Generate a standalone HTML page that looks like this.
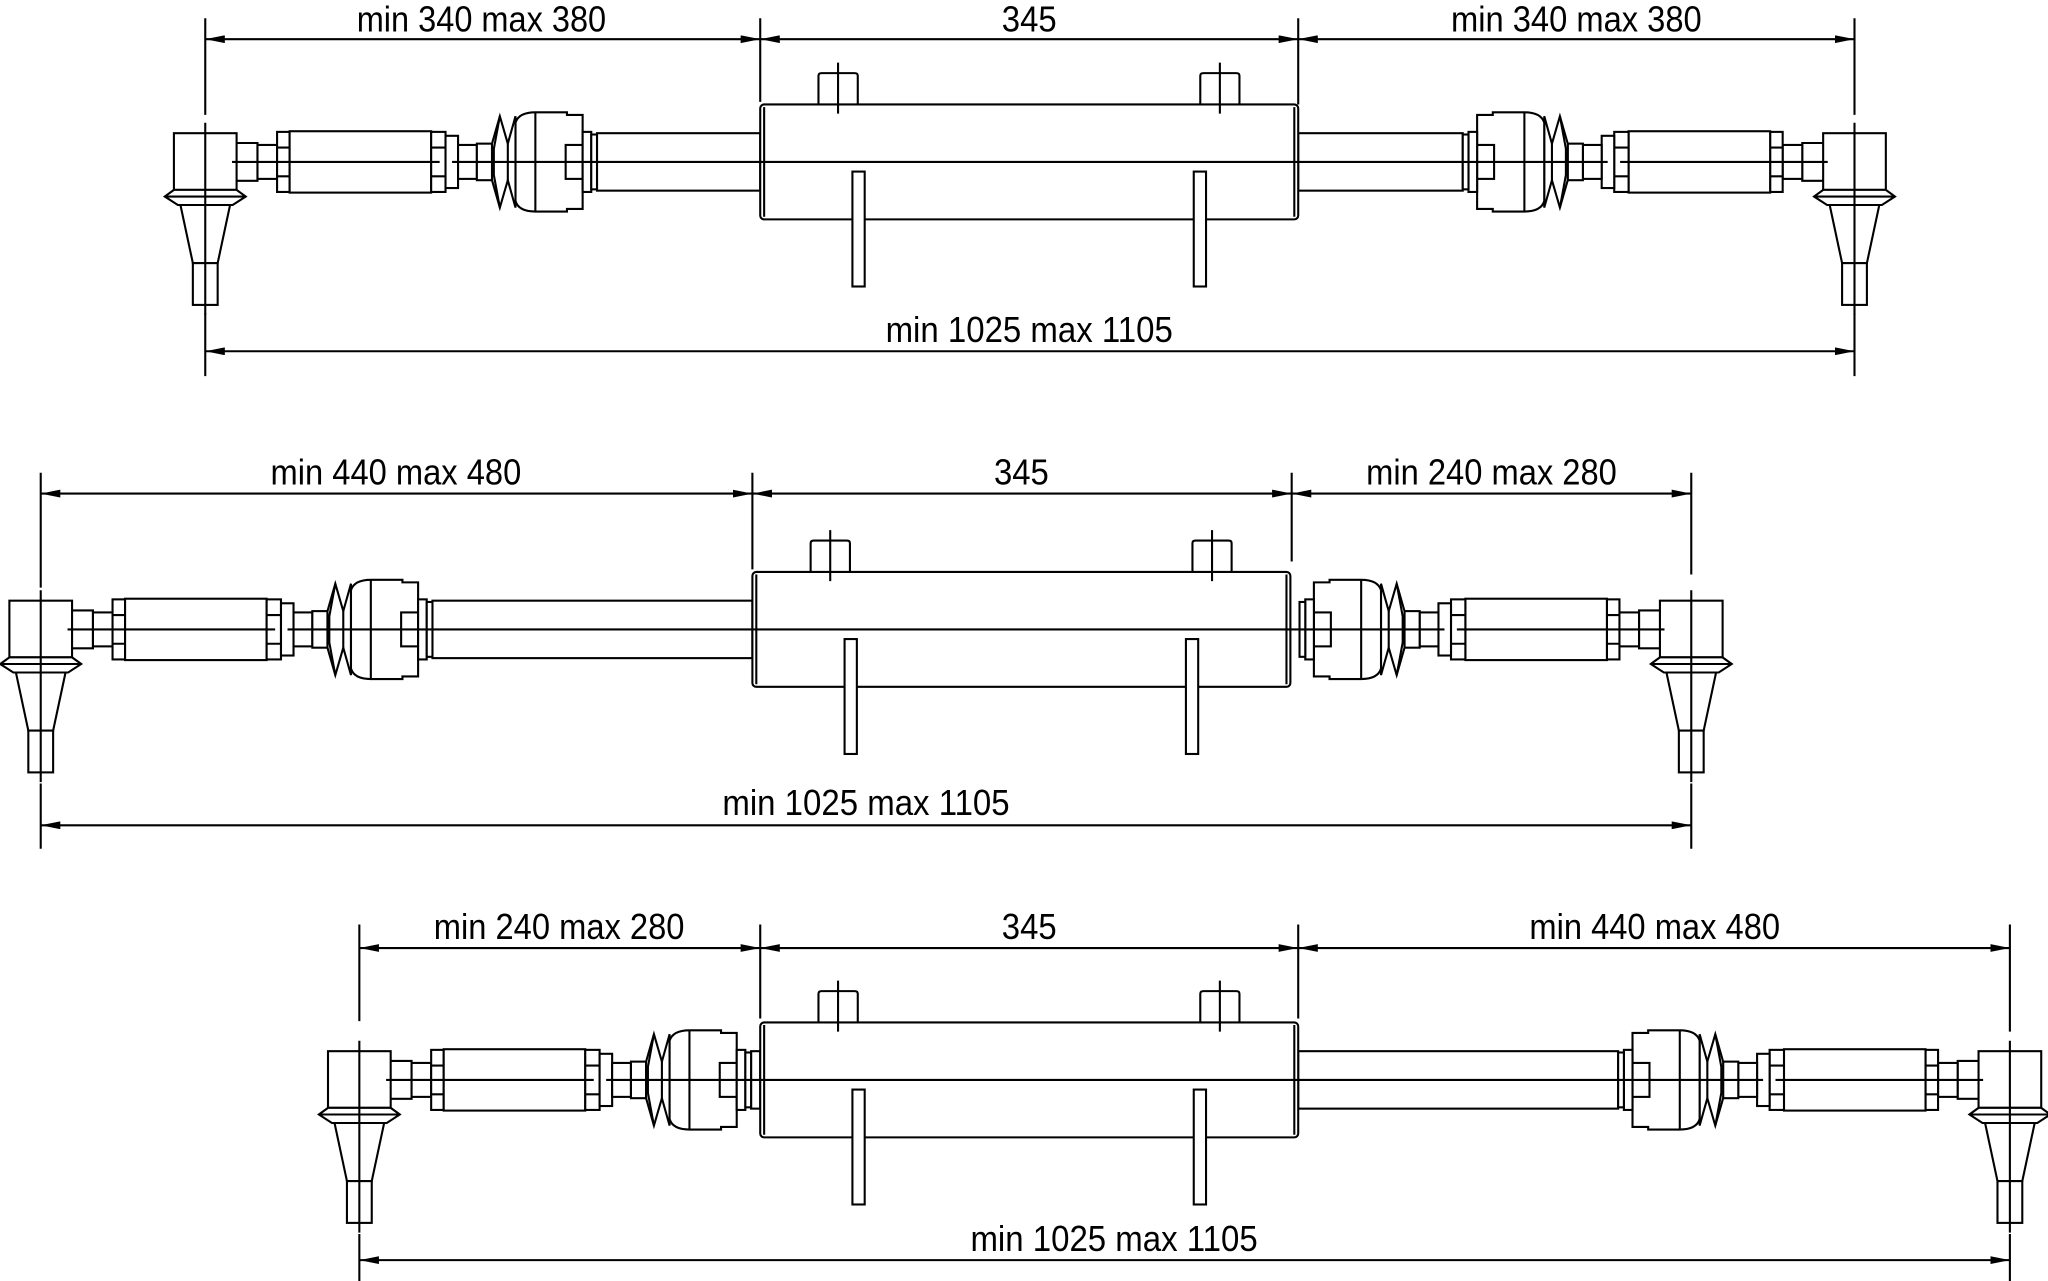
<!DOCTYPE html>
<html><head><meta charset="utf-8"><style>
html,body{margin:0;padding:0;background:#fff}
svg{display:block}
text{font-family:"Liberation Sans",sans-serif;font-size:28px;fill:#000}
</style></head><body>
<svg width="2048" height="1281" viewBox="0 0 1568 981" xmlns="http://www.w3.org/2000/svg">
<defs>
<marker id="ar" viewBox="0 0 15 6" refX="15" refY="3" markerWidth="15" markerHeight="6" markerUnits="userSpaceOnUse" orient="auto-start-reverse">
<path d="M0,0 L15,3 L0,6 Z" fill="#000"/></marker>
<g id="end" fill="#fff" stroke="#000" stroke-width="1.6">
<path d="M24,-14.5 H40 V14.5 H24 Q21,0 24,-14.5 Z"/>
<rect x="40" y="-13" width="15" height="26"/>
<rect x="55" y="-23" width="9.6" height="46"/>
<path d="M55,-11 H64.6 M55,11 H64.6" fill="none"/>
<rect x="64.6" y="-23.5" width="108.4" height="47"/>
<rect x="173" y="-23" width="11" height="46"/>
<path d="M173,-11 H184 M173,11 H184" fill="none"/>
<rect x="184" y="-20" width="9.6" height="40"/>
<rect x="193.6" y="-13" width="14.4" height="26"/>
<rect x="208" y="-14" width="11.6" height="28"/>
<path d="M219.6,-14 L225.6,-35 L231.7,-14 L237.6,-35 L237.6,35 L231.7,14 L225.6,35 L219.6,14 Z"/>
<path d="M225.6,-35 L221,-10 V10 L225.6,35 M231.7,-14 V14" fill="none"/>
<path d="M237.6,-30 Q240,-38 252.8,-38 H277 V-36 H289 V36 H277 V38 H252.8 Q240,38 237.6,30 Z"/>
<path d="M252.8,-38 V38" fill="none"/>
<rect x="276" y="-13" width="13" height="26"/>
<rect x="289" y="-23" width="6.6" height="46"/>
<rect x="295.6" y="-21" width="4.4" height="42"/>
<rect x="-24" y="-22" width="48" height="43.4"/>
<path d="M-24,21.4 L-31,26.5 L-21,33 L21,33 L31,26.5 L24,21.4 Z"/>
<path d="M-31,26.5 H31" fill="none"/>
<path d="M-19,33 L-9.5,77.5 H9.5 L19,33 Z"/>
<rect x="-9.5" y="77.5" width="19" height="32"/>
<path d="M0,-30 V117 M20.5,0 H179.5 M189,0 H300" fill="none"/>
</g>
<g id="cyl" fill="#fff" stroke="#000" stroke-width="1.6">
<path d="M44.6,-44 V-66 Q44.6,-68 47,-68 H72.3 Q74.7,-68 74.7,-66 V-44 Q59.6,-36 44.6,-44 Z"/>
<path d="M337,-44 V-66 Q337,-68 339.4,-68 H364.6 Q367,-68 367,-66 V-44 Q352,-36 337,-44 Z"/>
<rect x="0" y="-44" width="412" height="88" rx="3"/>
<path d="M3,-42 V42 M409,-42 V42 M59.6,-76 V-37 M352,-76 V-37" fill="none"/>
<rect x="70.6" y="7.4" width="9.4" height="88"/>
<rect x="332" y="7.4" width="9.4" height="88"/>
</g>
</defs>

<g stroke="#000" stroke-width="1.6" fill="none">
<rect x="457" y="102" width="125" height="44" fill="#fff"/>
<rect x="994" y="102" width="126" height="44" fill="#fff"/>
<use href="#cyl" x="582" y="124"/>
<line x1="457" y1="124" x2="1120" y2="124"/>
<use href="#end" transform="translate(157,124)"/>
<use href="#end" transform="translate(1420,124) scale(-1,1)"/>
<path d="M157,14 V88 M582,14 V78 M994,14 V80 M1420,14 V88 M157,240 V288 M1420,240 V288"/>
<line x1="157" y1="30" x2="582" y2="30" marker-start="url(#ar)" marker-end="url(#ar)"/>
<line x1="582" y1="30" x2="994" y2="30" marker-start="url(#ar)" marker-end="url(#ar)"/>
<line x1="994" y1="30" x2="1420" y2="30" marker-start="url(#ar)" marker-end="url(#ar)"/>
<line x1="157" y1="269" x2="1420" y2="269" marker-start="url(#ar)" marker-end="url(#ar)"/>

<rect x="331" y="460" width="245" height="44" fill="#fff"/>
<use href="#cyl" x="576" y="482"/>
<line x1="331" y1="482" x2="995" y2="482"/>
<use href="#end" transform="translate(31,482)"/>
<use href="#end" transform="translate(1295,482) scale(-1,1)"/>
<path d="M31,362 V450 M576,362 V436 M989,362 V430 M1295,362 V440 M31,600 V650 M1295,600 V650"/>
<line x1="31" y1="378" x2="576" y2="378" marker-start="url(#ar)" marker-end="url(#ar)"/>
<line x1="576" y1="378" x2="989" y2="378" marker-start="url(#ar)" marker-end="url(#ar)"/>
<line x1="989" y1="378" x2="1295" y2="378" marker-start="url(#ar)" marker-end="url(#ar)"/>
<line x1="31" y1="632" x2="1295" y2="632" marker-start="url(#ar)" marker-end="url(#ar)"/>

<rect x="575" y="805" width="7" height="44" fill="#fff"/>
<rect x="994" y="805" width="245" height="44" fill="#fff"/>
<use href="#cyl" x="582" y="827"/>
<line x1="575" y1="827" x2="1239" y2="827"/>
<use href="#end" transform="translate(275,827)"/>
<use href="#end" transform="translate(1539,827) scale(-1,1)"/>
<path d="M275,708 V782 M582,708 V780 M994,708 V780 M1539,708 V790 M275,945 V981 M1539,945 V981"/>
<line x1="275" y1="726" x2="582" y2="726" marker-start="url(#ar)" marker-end="url(#ar)"/>
<line x1="582" y1="726" x2="994" y2="726" marker-start="url(#ar)" marker-end="url(#ar)"/>
<line x1="994" y1="726" x2="1539" y2="726" marker-start="url(#ar)" marker-end="url(#ar)"/>
<line x1="275" y1="965" x2="1539" y2="965" marker-start="url(#ar)" marker-end="url(#ar)"/>
</g>

<text x="273" y="24" textLength="191" lengthAdjust="spacingAndGlyphs">min 340 max 380</text>
<text x="767" y="24" textLength="42" lengthAdjust="spacingAndGlyphs">345</text>
<text x="1111" y="24" textLength="192" lengthAdjust="spacingAndGlyphs">min 340 max 380</text>
<text x="678" y="262" textLength="220" lengthAdjust="spacingAndGlyphs">min 1025 max 1105</text>

<text x="207" y="371" textLength="192" lengthAdjust="spacingAndGlyphs">min 440 max 480</text>
<text x="761" y="371" textLength="42" lengthAdjust="spacingAndGlyphs">345</text>
<text x="1046" y="371" textLength="192" lengthAdjust="spacingAndGlyphs">min 240 max 280</text>
<text x="553" y="624" textLength="220" lengthAdjust="spacingAndGlyphs">min 1025 max 1105</text>

<text x="332" y="719" textLength="192" lengthAdjust="spacingAndGlyphs">min 240 max 280</text>
<text x="767" y="719" textLength="42" lengthAdjust="spacingAndGlyphs">345</text>
<text x="1171" y="719" textLength="192" lengthAdjust="spacingAndGlyphs">min 440 max 480</text>
<text x="743" y="958" textLength="220" lengthAdjust="spacingAndGlyphs">min 1025 max 1105</text>
</svg>
</body></html>
